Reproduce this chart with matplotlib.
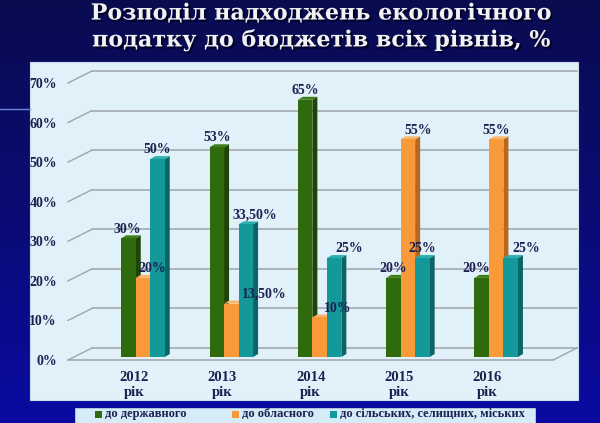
import numpy as np
import matplotlib
matplotlib.use("Agg")
import matplotlib.pyplot as plt
from matplotlib.patches import Polygon, Rectangle
from matplotlib.colors import LinearSegmentedColormap
import matplotlib.patheffects as pe

# data
years = ["2012\nрік", "2013\nрік", "2014\nрік", "2015\nрік", "2016\nрік"]
state = [30, 53, 65, 20, 20]
oblast = [20, 13.5, 10, 55, 55]
local = [50, 33.5, 25, 25, 25]
state_lbl = ["30%", "53%", "65%", "20%", "20%"]
oblast_lbl = ["20%", "13,50%", "10%", "55%", "55%"]
local_lbl = ["50%", "33,50%", "25%", "25%", "25%"]
series_names = ["до державного", "до обласного", "до сільських, селищних, міських"]
yticks = [0, 10, 20, 30, 40, 50, 60, 70]

# colours: front, side, top
cols = [("#2f6a0c", "#1d4505", "#3f7e18"),
        ("#f89a3a", "#b8681e", "#fbb56a"),
        ("#14999a", "#0b6466", "#2bb0b0")]
txt = "#1b2150"

W, H = 600, 423
fig = plt.figure(figsize=(W / 100, H / 100), dpi=100)

# slide background
bg = fig.add_axes([0, 0, 1, 1])
grad = np.linspace(0, 1, 256).reshape(-1, 1)
cm = LinearSegmentedColormap.from_list("bg", ["#090b50", "#0b0c74", "#0a0aa2"])
bg.imshow(grad, aspect="auto", cmap=cm, extent=[0, 1, 0, 1], origin="upper")
bg.set_xlim(0, 1)
bg.set_ylim(0, 1)
bg.axis("off")
bg.plot([0, 30 / W], [1 - 109 / H, 1 - 109 / H], color="#6a8ad8", lw=1)
# chart panel and legend box
bg.add_patch(Rectangle((30 / W, 1 - 400 / H), 548 / W, 338 / H, facecolor="#e1f1fa",
                       edgecolor="#c8dcea", lw=0.8))
bg.add_patch(Rectangle((75 / W, 0), 460 / W, 15 / H, facecolor="#d6ebf8",
                       edgecolor="#b8cfe0", lw=0.6))

# title
fig.text(321 / W, 1 - 27 / H, "Розподіл надходжень екологічного\nподатку до бюджетів всіх рівнів, %",
         ha="center", va="center", fontsize=16, fontweight="bold", family="DejaVu Serif",
         color="#f2f2f2", linespacing=1.25,
         path_effects=[pe.withSimplePatchShadow(offset=(1.5, -1.5), shadow_rgbFace="#000020", alpha=0.9)])

# plot axes = front plane of the 3D box
ux = 88.3                     # pixels per category
uy = 277 / 70                 # pixels per percent
x0_px = 134                   # pixel of category 0
left_px, right_px, top_px, base_px = 68, 553, 83, 360
ax = fig.add_axes([left_px / W, 1 - base_px / H, (right_px - left_px) / W, (base_px - top_px) / H])
xl = (left_px - x0_px) / ux
xr = (right_px - x0_px) / ux
ax.set_xlim(xl, xr)
ax.set_ylim(0, 70)
ax.patch.set_alpha(0)
for s in ax.spines.values():
    s.set_visible(False)

# back wall offset and bar depth (converted to data units)
bdx, bdy = 24 / ux, 12 / uy
ddx, ddy = 5 / ux, 3 / uy
back_r = (577 - x0_px) / ux

grid_c = "#9ea4ac"
for v in yticks:
    ax.plot([xl + bdx, back_r], [v + bdy, v + bdy], color=grid_c, lw=1.1, clip_on=False, zorder=1)
    ax.plot([xl, xl + bdx], [v, v + bdy], color=grid_c, lw=1.0, clip_on=False, zorder=1)
# floor
ax.plot([xl, xr], [0, 0], color=grid_c, lw=1.1, clip_on=False, zorder=1)
ax.plot([xr, back_r], [0, bdy], color=grid_c, lw=1.0, clip_on=False, zorder=1)

# bars
x = np.arange(len(years))
bw = 14.5 / ux
gshift = 9 / ux
base = 3 / uy
label_nudge = [[-1, 0, 0, 0, -6], [9, 33, 18, 10, 0], [0, 9, 15, 0, 15]]
for k, (vals, lbls) in enumerate([(state, state_lbl), (oblast, oblast_lbl), (local, local_lbl)]):
    front, side, top = cols[k]
    xs = x + gshift + (k - 1) * bw - bw / 2
    for i, v in enumerate(vals):
        xa, xb = xs[i], xs[i] + bw
        y0, y1 = base, base + v
        z = 3 + k
        ax.add_patch(Polygon([(xb, y0), (xb + ddx, y0 + ddy), (xb + ddx, y1 + ddy), (xb, y1)],
                             closed=True, facecolor=side, edgecolor="none", zorder=z))
        ax.add_patch(Polygon([(xa, y1), (xa + ddx, y1 + ddy), (xb + ddx, y1 + ddy), (xb, y1)],
                             closed=True, facecolor=top, edgecolor="none", zorder=z))
    ax.bar(xs, vals, width=bw, bottom=base, align="edge", color=front, zorder=3 + k)
    for i, v in enumerate(vals):
        ax.annotate(lbls[i], (xs[i] + bw / 2, base + v), xytext=(label_nudge[k][i] * 0.72, 2),
                    textcoords="offset points", ha="center", va="bottom", fontsize=10,
                    fontweight="bold", family="Liberation Serif", color=txt, zorder=10)

ax.set_yticks(yticks)
ax.set_yticklabels([f"{v}%" for v in yticks], fontsize=10, fontweight="bold",
                   family="Liberation Serif", color=txt)
ax.set_xticks(x)
ax.set_xticklabels(years, fontsize=10.5, fontweight="bold", family="Liberation Serif",
                   color=txt, linespacing=1.2)
ax.tick_params(axis="y", length=0, pad=8)
ax.tick_params(axis="x", length=0, pad=8)

# legend
lx = [95, 232, 330]
for k in range(3):
    fig.patches.append(Rectangle((lx[k] / W, 1 - 418 / H), 7 / W, 7 / H, facecolor=cols[k][0],
                                 edgecolor="none", transform=fig.transFigure, figure=fig))
    fig.text((lx[k] + 10) / W, 1 - 414 / H, series_names[k], ha="left", va="center",
             fontsize=9, fontweight="bold", family="Liberation Serif", color=txt)

fig.savefig("out.png", dpi=100)
